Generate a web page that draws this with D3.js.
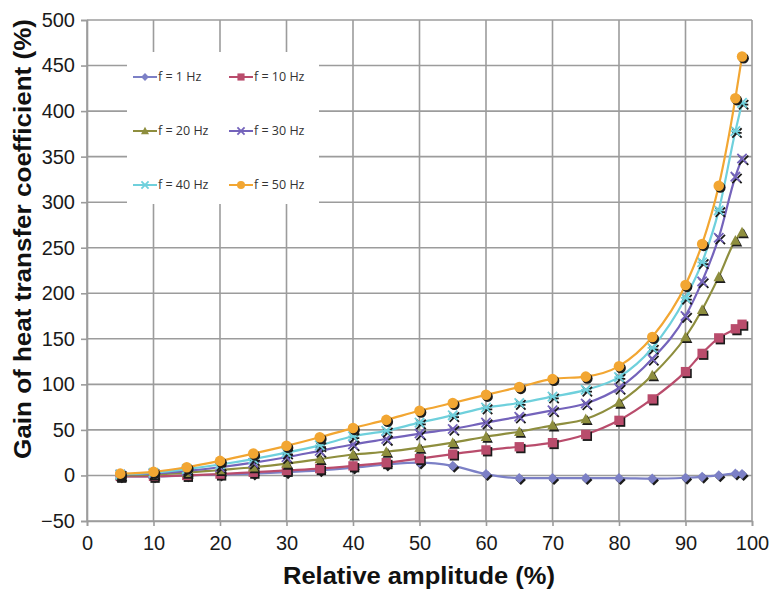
<!DOCTYPE html>
<html><head><meta charset="utf-8">
<script src="https://cdn.jsdelivr.net/npm/d3@7/dist/d3.min.js"></script>
<style>
html,body{margin:0;padding:0;background:#fff;}
svg{display:block;font-family:"Liberation Sans",Arial,sans-serif;}
</style></head>
<body><svg id="chart" width="771" height="590"></svg>
<script>
const amplitudes = [5,10,15,20,25,30,35,40,45,50,55,60,65,70,75,80,85,90,92.5,95,97.5,98.5];
const f1  = [-1,-1,0,1,2,3.5,5.5,8.5,12,14,10.5,1.5,-3,-3,-3,-3,-3.5,-2.5,-1.5,0,2,1.5];
const f10 = [-1,-1,0,1.5,3.5,5.5,7.5,10.5,14,18.5,23.5,28,31.5,36,45,60.5,84,114,134,151,161,166];
const f20 = [0,1,3,6,9,13,18,23,26,30.5,36,42.5,48,55,62,80,110,152,182,218,258,267];
const f30 = [1,2,5,9,14,20,27,34,40,46,51,58,64.5,71.5,79,96,128,175,213,261,328,348];
const f40 = [1,3,7,12,18,25,33,43,49,58,66,74.5,79.5,86.5,94,108,140,195,234,291,378,409];
const f50 = [2,4,9,16,24,32.5,42,52,61,71,79.5,88.5,97,106,108.5,120,152,209,254,318,414,460];
const seriesNames = ["f = 1 Hz","f = 10 Hz","f = 20 Hz","f = 30 Hz","f = 40 Hz","f = 50 Hz"];
const seriesValues = [f1,f10,f20,f30,f40,f50];
const xTicks = [0,10,20,30,40,50,60,70,80,90,100];
const yTicks = [-50,0,50,100,150,200,250,300,350,400,450,500];
const xTitle = "Relative amplitude (%)";
const yTitle = "Gain of heat transfer coefficient (%)";

const colors = ["#7c80c6","#b94c6c","#8e8e3e","#7463bb","#6fd0dc","#f2a632"];
const shapes = ["diamond","square","triangle","x","star","circle"];

const svg = d3.select("#chart");
const L=87, R=752, T=20, B=521;
const x = d3.scaleLinear().domain([0,100]).range([L,R]);
const y = d3.scaleLinear().domain([-50,500]).range([B,T]);

// grid
const grid = svg.append("g");
grid.selectAll("line.v").data(xTicks).join("line")
  .attr("x1",d=>x(d)).attr("x2",d=>x(d)).attr("y1",T).attr("y2",B)
  .attr("stroke","#9c9c9c").attr("stroke-width",1.6);
grid.selectAll("line.h").data(yTicks).join("line")
  .attr("y1",d=>y(d)).attr("y2",d=>y(d)).attr("x1",L).attr("x2",R)
  .attr("stroke","#9c9c9c").attr("stroke-width",1.6);

// axes
const xAxis = svg.append("g").attr("transform",`translate(0,${B})`)
  .call(d3.axisBottom(x).tickValues(xTicks).tickSize(5).tickPadding(7).tickFormat(d3.format("d")));
const yAxis = svg.append("g").attr("transform",`translate(${L},0)`)
  .call(d3.axisLeft(y).tickValues(yTicks).tickSize(6).tickPadding(6).tickFormat(d3.format("d")));
[xAxis,yAxis].forEach(a=>{
  a.select(".domain").attr("stroke","#9c9c9c").attr("stroke-width",1.6);
  a.selectAll(".tick line").attr("stroke","#9c9c9c").attr("stroke-width",1.6);
  a.selectAll("text").attr("font-size",20).attr("fill","#1a1a1a")
    .attr("font-family","'Liberation Sans',Arial,sans-serif");
});
xAxis.selectAll("text").attr("dy","0.85em");

// legend background
svg.append("rect").attr("x",127).attr("y",52).attr("width",192).attr("height",152).attr("fill","#fff");

function marker(g, shape, cx, cy, s, color, shadow){
  const fill = shadow ? "#1b1b1b" : color;
  const ox = shadow ? 1.6 : 0, oy = shadow ? 1.8 : 0;
  cx+=ox; cy+=oy;
  if(shape==="circle"){
    g.append("circle").attr("cx",cx).attr("cy",cy).attr("r",s*0.62).attr("fill",fill);
  } else if(shape==="square"){
    g.append("rect").attr("x",cx-s*0.55).attr("y",cy-s*0.55).attr("width",s*1.1).attr("height",s*1.1).attr("fill",fill);
  } else if(shape==="diamond"){
    g.append("path").attr("d",`M${cx},${cy-s*0.6}L${cx+s*0.6},${cy}L${cx},${cy+s*0.6}L${cx-s*0.6},${cy}Z`).attr("fill",fill);
  } else if(shape==="triangle"){
    g.append("path").attr("d",`M${cx},${cy-s*0.65}L${cx+s*0.62},${cy+s*0.5}L${cx-s*0.62},${cy+s*0.5}Z`).attr("fill",fill);
  } else if(shape==="x"){
    const r=s*0.55;
    g.append("path").attr("d",`M${cx-r},${cy-r}L${cx+r},${cy+r}M${cx-r},${cy+r}L${cx+r},${cy-r}`)
      .attr("stroke",fill).attr("stroke-width",1.8).attr("fill","none");
  } else if(shape==="star"){
    const r=s*0.55;
    g.append("path").attr("d",`M${cx-r},${cy-r}L${cx+r},${cy+r}M${cx-r},${cy+r}L${cx+r},${cy-r}M${cx-r},${cy}L${cx+r},${cy}`)
      .attr("stroke",fill).attr("stroke-width",1.8).attr("fill","none");
  }
}

const line = d3.line().x(d=>x(d[0])).y(d=>y(d[1])).curve(d3.curveMonotoneX);
seriesValues.forEach((vals,i)=>{
  const pts = amplitudes.map((a,j)=>[a,vals[j]]);
  const g = svg.append("g");
  g.append("path").datum(pts).attr("d",line).attr("fill","none")
    .attr("stroke",colors[i]).attr("stroke-width",2.2);
  pts.forEach(p=>marker(g,shapes[i],x(p[0]),y(p[1]),8.5,colors[i],true));
  pts.forEach(p=>marker(g,shapes[i],x(p[0]),y(p[1]),8.5,colors[i],false));
});

// legend
const leg = svg.append("g");
const legPos = [[133,77],[229,77],[133,131],[229,131],[133,185],[229,185]];
seriesNames.forEach((n,i)=>{
  const [lx,ly]=legPos[i];
  leg.append("line").attr("x1",lx).attr("x2",lx+24).attr("y1",ly).attr("y2",ly)
    .attr("stroke",colors[i]).attr("stroke-width",2);
  marker(leg,shapes[i],lx+12,ly,6.5,colors[i],false);
  leg.append("text").attr("x",lx+25).attr("y",ly).attr("dy","0.35em")
    .attr("font-size",12.5).attr("fill","#333").attr("font-family","'Open Sans','Liberation Sans',sans-serif").text(n);
});

// titles
svg.append("text").attr("x",419).attr("y",584).attr("text-anchor","middle")
  .attr("font-size",24).attr("font-weight","bold").attr("fill","#111")
  .attr("textLength",272).attr("lengthAdjust","spacingAndGlyphs").text(xTitle);
svg.append("text").attr("transform",`translate(31,${239}) rotate(-90)`).attr("text-anchor","middle")
  .attr("font-size",24).attr("font-weight","bold").attr("fill","#111")
  .attr("textLength",440).attr("lengthAdjust","spacingAndGlyphs").text(yTitle);
</script></body></html>
